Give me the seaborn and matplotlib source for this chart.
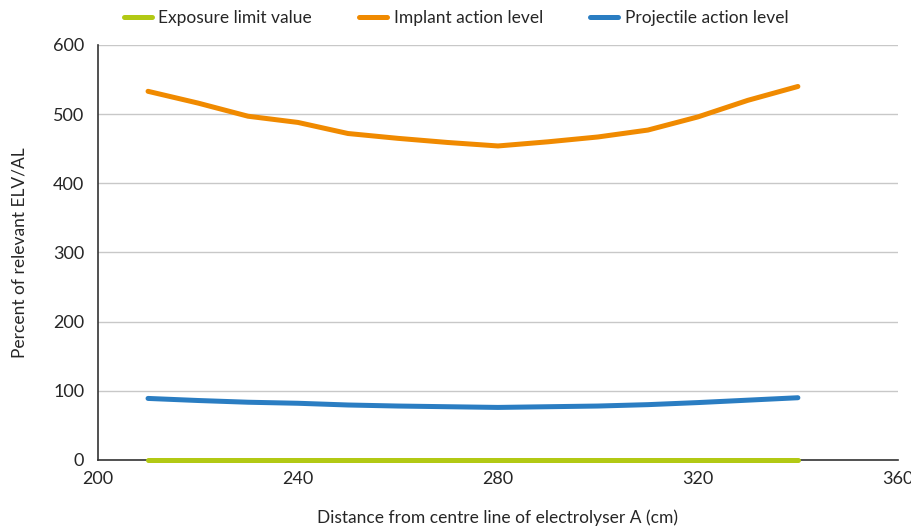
import pandas as pd
import seaborn as sns
import matplotlib.pyplot as plt

distance = [210, 220, 230, 240, 250, 260, 270, 280, 290, 300, 310, 320, 330, 340]
exposure_limit = [0, 0, 0, 0, 0, 0, 0, 0, 0, 0, 0, 0, 0, 0]
implant_al = [533, 516, 497, 488, 472, 465, 459, 454, 460, 467, 477, 496, 520, 540]
projectile_al = [89, 86, 83.5, 82, 79.5, 78, 77, 76, 77, 78, 80, 83, 86.5, 90]

series_names = ["Exposure limit value", "Implant action level", "Projectile action level"]
colours = ["#b2c914", "#f08a00", "#2a7dc2"]

df = pd.concat([
    pd.DataFrame({"distance": distance, "value": vals, "series": name})
    for name, vals in zip(series_names, [exposure_limit, implant_al, projectile_al])
])

sns.set_style("white")
plt.rcParams["font.family"] = ["Lato", "DejaVu Sans"]

fig = plt.figure(figsize=(9.12, 5.26), dpi=100)
ax = fig.add_axes([0.1075, 0.1255, 0.877, 0.789])
sns.lineplot(data=df, x="distance", y="value", hue="series", hue_order=series_names,
             palette=colours, linewidth=3.6, ax=ax, legend=True)
for ln in ax.lines:
    ln.set_solid_capstyle("round")
    ln.set_clip_on(False)
    ln.set_zorder(5)

ax.set_xlim(200, 360)
ax.set_ylim(0, 600)
ax.set_xticks([200, 240, 280, 320, 360])
ax.set_yticks(range(0, 601, 100))
ax.yaxis.grid(True, color="#c8c8c8", linewidth=1)
ax.set_axisbelow(True)
for s in ["top", "right"]:
    ax.spines[s].set_visible(False)
for s in ["left", "bottom"]:
    ax.spines[s].set_color("#333333")
    ax.spines[s].set_linewidth(1.2)
ax.tick_params(axis="x", direction="in", length=4, color="#333333", labelsize=13, pad=8)
ax.tick_params(axis="y", length=0, labelsize=13, pad=10)
ax.set_xlabel("Distance from centre line of electrolyser A (cm)", fontsize=12.5, labelpad=16)
ax.set_ylabel("Percent of relevant ELV/AL", fontsize=12.5, labelpad=18)

# legend sits centred on the figure, not on the axes
handles, labels = ax.get_legend_handles_labels()
ax.get_legend().remove()
fig.legend(handles, labels, loc="upper center", bbox_to_anchor=(0.5, 1.0), ncol=3,
           frameon=False, fontsize=12.5, handlelength=1.6, columnspacing=2.7,
           handletextpad=0.4, borderaxespad=0.2)

plt.savefig("out.png", dpi=100)
plt.close()
